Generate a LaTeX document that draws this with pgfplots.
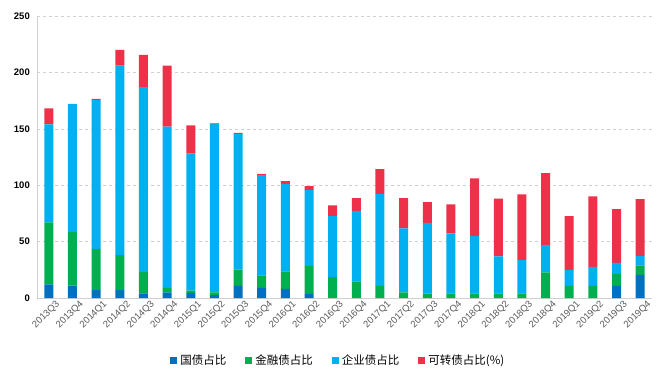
\documentclass[border=0pt]{standalone}
\usepackage{fontspec}
\setmainfont{Liberation Sans}
\newfontfamily\cjk{Noto Sans CJK SC}
\usepackage{pgfplots}
\usepackage{pgfplotstable}
\pgfplotsset{compat=1.18}
\definecolor{cgz}{HTML}{0070C0}
\definecolor{cjr}{HTML}{00B050}
\definecolor{cqy}{HTML}{00B0F0}
\definecolor{ckz}{HTML}{EE3048}
\definecolor{cgrid}{HTML}{D0D0D0}
\definecolor{clab}{HTML}{595959}
\pgfplotstableread{
x gz jr qy kz
0 12 55 87 14
1 11 47.5 113.5 0
2 7 36.5 132 1
3 7 31 168 14
4 4 19 164 28.5
5 5 4 143 54
6 4.5 2 121.5 25
7 2.5 2.5 149.5 0.6
8 10.7 14.4 120.5 0.8
9 9 11 89 1
10 8 15.7 77.5 2.4
11 3.6 24.8 67.2 3.5
12 0 18.6 53.9 9.7
13 0 14.8 62.4 11.3
14 0 10.7 81.6 21.9
15 0 5 56.8 26.7
16 0 4.1 62.5 18.3
17 0 4 53.3 25.7
18 0 4 51 51
19 0 4 33 51
20 0 4 29.6 58.3
21 0 22.8 24.2 63.7
22 0 10.7 14.2 47.6
23 0 10.7 16.8 62.7
24 10.7 10.6 9.8 47.6
25 20.4 8.6 8.3 50.3
}\data
\begin{document}
\begin{tikzpicture}[x=1pt,y=1pt]
\useasboundingbox (-37,-85) rectangle (634,298);
\begin{axis}[
  at={(0,0)}, anchor=south west,
  scale only axis, width=615pt, height=282pt,
  ybar stacked, bar width=9pt,
  xmin=-0.5, xmax=25.5, ymin=0, ymax=250,
  ytick={0,50,...,250},
  xtick=data,
  xticklabels={2013Q3,2013Q4,2014Q1,2014Q2,2014Q3,2014Q4,2015Q1,2015Q2,2015Q3,2015Q4,2016Q1,2016Q2,2016Q3,2016Q4,2017Q1,2017Q2,2017Q3,2017Q4,2018Q1,2018Q2,2018Q3,2018Q4,2019Q1,2019Q2,2019Q3,2019Q4},
  x tick label style={rotate=45, anchor=north east, font=\fontsize{9.5}{10}\selectfont, text=clab, inner sep=0.5pt, xshift=4pt, yshift=-5pt},
  y tick label style={font=\fontsize{9.5}{10}\bfseries\selectfont, inner sep=1pt, xshift=-6pt},
  /pgf/number format/assume math mode=true,
  major tick length=0pt,
  axis x line*=bottom, axis y line*=left,
  axis line style={draw=cgrid, line width=0.8pt},
  ymajorgrids, grid style={draw=cgrid, dashed, line width=0.6pt},
  legend columns=4,
  legend style={at={(0.49,-0.22)}, anchor=center, draw=none, fill=none,
    font=\cjk\fontsize{11.5}{12}\selectfont, inner sep=0pt,
    /tikz/every even column/.append style={column sep=17pt},
    /tikz/every odd column/.append style={column sep=1pt}},
  legend image code/.code={\fill[#1] (0pt,-3.5pt) rectangle (7pt,3.5pt);},
  every axis plot/.append style={draw=none},
]
\addplot[fill=cgz] table[x=x,y=gz]{\data};
\addplot[fill=cjr] table[x=x,y=jr]{\data};
\addplot[fill=cqy] table[x=x,y=qy]{\data};
\addplot[fill=ckz] table[x=x,y=kz]{\data};
\legend{国债占比,金融债占比,企业债占比,可转债占比(\%)}
\end{axis}
\end{tikzpicture}
\end{document}
